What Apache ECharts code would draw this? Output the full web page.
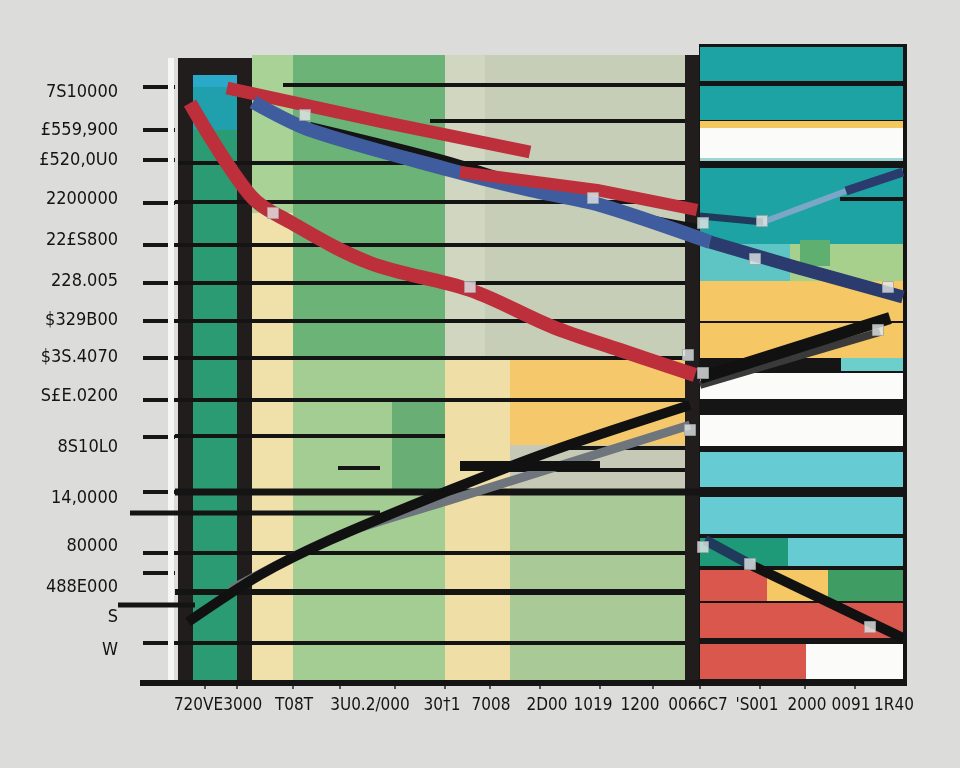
<!DOCTYPE html>
<html><head><meta charset="utf-8">
<script src="https://cdn.jsdelivr.net/npm/echarts@6/dist/echarts.min.js"></script>
<style>html,body{margin:0;padding:0;background:#dcdcda;}#chart{width:960px;height:768px;}</style>
</head><body><div id="chart"></div>
<script>
// ---------------- data ----------------
const yLabelValues = [59.1, 55.3, 52.3, 48.4, 44.3, 40.2, 36.3, 32.6, 28.7, 23.6, 18.5, 13.7, 9.6, 6.6, 3.3];
const yLabelTexts  = ["7S10000", "£559,900", "£520,0U0", "2200000", "22£S800", "228.005", "$329B00", "$3S.4070", "S£E.0200", "8S10L0", "14,0000", "80000", "488E000", "S", "W"];
const yTickValues  = [59.6, 55.3, 52.3, 48.0, 43.8, 40.0, 36.2, 32.5, 28.3, 24.6, 19.1, 13.0, 11.0, 7.8, 4.0];

const xLabelValues = [4.3, 11.9, 19.5, 26.7, 31.6, 37.2, 41.8, 46.5, 52.3, 58.2, 63.2, 67.6, 71.9];
const xLabelTexts  = ["720VE3000", "T08T", "3U0.2/000", "30†1", "7008", "2D00", "1019", "1200", "0066C7", "'S001", "2000", "0091", "1R40"];
const xTickValues  = [3.0, 6.2, 11.8, 16.5, 22.0, 27.0, 31.5, 36.5, 42.5, 47.8, 52.5, 58.5, 63.0, 68.0];

// column bands and panel rows: [left, right, bottom, top]
const bands = [
  [-0.7, -0.1, 0, 62.5],
  [0.3, 7.7, 60.8, 62.5], [0.3, 1.8, 0, 62.5], [1.8, 6.2, 55.3, 60.8], [1.8, 6.2, 59.6, 60.8],
  [1.8, 6.2, 0, 55.3], [6.2, 7.7, 0, 62.5], [7.7, 11.8, 47.0, 62.8], [7.7, 11.8, 0, 47.0],
  [11.8, 27.0, 32.3, 62.8], [11.8, 27.0, 0, 32.3], [21.7, 27.0, 19.3, 28.3], [27.0, 51.0, 32.3, 62.8],
  [27.0, 31.0, 32.3, 62.8], [27.0, 33.5, 0, 32.3], [33.5, 51.0, 23.8, 32.3], [33.5, 51.0, 19.0, 23.8],
  [33.5, 51.0, 0, 19.0], [51.0, 52.4, 0, 62.8]
];
const panelRows = [
  [52.4, 73.2, 0, 63.9], [52.5, 72.8, 60.2, 63.6], [52.5, 72.8, 56.3, 59.7], [52.5, 72.8, 55.5, 56.2],
  [52.5, 72.8, 52.5, 55.5], [52.5, 72.8, 52.2, 52.5], [52.5, 72.8, 43.9, 51.5], [52.5, 61.5, 40.2, 43.9],
  [61.5, 72.8, 40.2, 43.9], [62.5, 65.5, 41.7, 44.3], [52.5, 72.8, 36.2, 40.2], [52.5, 72.8, 32.5, 36.0],
  [66.6, 72.8, 31.2, 32.5], [52.5, 72.8, 28.4, 31.0], [52.5, 72.8, 23.7, 26.8], [52.5, 72.8, 19.6, 23.1],
  [52.5, 72.8, 14.9, 18.6], [52.5, 61.3, 11.7, 14.5], [61.3, 72.8, 11.7, 14.5], [52.5, 59.2, 8.2, 11.3],
  [59.2, 65.3, 8.2, 11.3], [65.3, 72.8, 8.2, 11.3], [52.5, 72.8, 4.5, 8.0], [52.5, 63.1, 0.4, 3.9],
  [63.1, 72.8, 0.4, 3.9]
];
// horizontal rules: [from, to, level]
const rules = [
  [10.8, 51.0, 59.8], [25.5, 51.0, 56.2], [0.3, 51.0, 52.0], [0, 51.0, 48.1], [0, 51.0, 43.8],
  [0, 51.0, 40.0], [0, 51.0, 36.2], [0, 51.0, 32.5], [0, 51.0, 28.3], [0, 27.0, 24.7],
  [38.5, 51.0, 23.5], [33.5, 51.0, 21.3], [16.3, 20.5, 21.5], [0, 52.5, 19.1], [-4.5, 20.5, 17.0],
  [0, 51.0, 13.0], [0, 51.0, 9.1], [-5.7, 2.0, 7.8], [0, 51.0, 4.0], [-3.5, 73.2, 0], [66.5, 72.8, 48.4]
];

// trend lines
const redSteep   = [[1.5, 58.0], [7.5, 48.8], [11.5, 46.1], [19.5, 42.0], [29.5, 39.3], [37.8, 35.6], [44.5, 33.3], [52.0, 30.8]];
const redTop     = [[5.2, 59.5], [20.8, 56.1], [35.5, 53.1]];
const redMid     = [[28.5, 51.1], [42.2, 49.3], [52.2, 47.3]];
const blueMain   = [[7.8, 58.1], [13.5, 55.3], [27.5, 51.3], [35.5, 49.3], [42.5, 47.8], [53.5, 44.1]];
const blueRight  = [[53.5, 44.1], [62.0, 41.6], [72.8, 38.6]];
const blackShade = [[13.5, 55.8], [27.5, 52.3], [42.5, 47.6], [52.2, 45.6]];
const paleBlue   = [[58.8, 46.1], [67.1, 49.2]];
const navyTop    = [[52.5, 46.7], [58.8, 46.1]];
const navyEnd    = [[67.1, 49.2], [72.8, 51.1]];
const blackRise  = [[1.3, 6.1], [8.5, 10.8], [15.5, 14.3], [27.5, 19.3], [38.5, 23.5], [51.5, 27.8]];
const greyRise   = [[5.5, 9.3], [16.5, 14.8], [27.5, 18.3], [51.5, 25.8]];
const blackFlat  = [[28.5, 21.7], [42.5, 21.7]];
const panelRise  = [[52.5, 30.5], [71.5, 36.5]];
const panelShade = [[52.5, 29.8], [70.5, 35.1]];
const navyLow    = [[53.0, 14.3], [57.8, 11.7]];
const blackFall  = [[57.8, 11.7], [72.8, 4.5]];

const markerX = [13.0, 9.8, 29.5, 41.8, 51.3, 51.5, 52.8, 58.7, 58.0, 71.3, 70.3, 52.8, 52.8, 57.5, 69.5];
const markerY = [56.8, 47.0, 39.6, 48.5, 32.8, 25.3, 46.0, 46.2, 42.4, 39.6, 35.3, 31.0, 13.6, 11.9, 5.6];

// ---------------- styles ----------------
const bandColors = ['#f6f6f4', '#211d1d', '#211d1d', '#1fa0ac', '#2aa9c8', '#2a9b73', '#211d1d', '#a9d296', '#efe1a9',
  '#6cb378', '#a3cd92', '#68ae75', '#c7ceb8', '#d0d6c0', '#efdfa6', '#f5c96b', '#c5c9b5', '#a9ca96', '#211d1d'];
const rowColors = ['#151515', '#1ea3a5', '#1ea3a5', '#f5c85e', '#fbfbf9', '#9fd5d0', '#1ea3a5', '#5ec4c4',
  '#a8d08d', '#5fb070', '#f5c865', '#f5c865', '#6ccfcc', '#fbfbf9', '#fbfbf9', '#67cbd3', '#67cbd3',
  '#1e9a78', '#67cbd3', '#d9574c', '#f5c865', '#3f9c62', '#d9574c', '#d9574c', '#fbfbf9'];
const ruleWidths = [4, 4, 4, 4, 4, 4, 4, 4, 4, 4, 4, 4, 4, 7, 5, 4, 6, 5, 4, 6, 4];

function rectRender(colors) {
  return function (params, api) {
    const p0 = api.coord([api.value(0), api.value(3)]);
    const p1 = api.coord([api.value(1), api.value(2)]);
    return { type: 'rect', shape: { x: p0[0], y: p0[1], width: p1[0] - p0[0], height: p1[1] - p0[1] },
      style: { fill: colors[params.dataIndex] } };
  };
}
function ruleRender(params, api) {
  const a = api.coord([api.value(0), api.value(2)]);
  const b = api.coord([api.value(1), api.value(2)]);
  return { type: 'line', shape: { x1: a[0], y1: a[1], x2: b[0], y2: b[1] },
    style: { stroke: '#141414', lineWidth: ruleWidths[params.dataIndex] } };
}
function line(data, color, width, z, smooth) {
  return { type: 'line', data: data, z: z, symbol: 'none', silent: true, animation: false, smooth: smooth || false,
    lineStyle: { color: color, width: width, cap: 'butt', join: 'round' } };
}

const font = '"DejaVu Sans Condensed", "Liberation Sans Narrow", sans-serif';
const chart = echarts.init(document.getElementById('chart'), null, { renderer: 'canvas' });
chart.setOption({
  backgroundColor: '#dcdcda',
  animation: false,
  grid: { left: 175, right: 50, top: 43, bottom: 85 },
  xAxis: {
    type: 'value', min: 0, max: 73.5,
    splitLine: { show: false },
    axisLine: { show: false },
    axisTick: { show: true, customValues: xTickValues, length: 6, lineStyle: { color: '#555', width: 2 } },
    axisLabel: { customValues: xLabelValues, margin: 14, color: '#141414', fontSize: 17, fontFamily: font,
      formatter: v => xLabelTexts[xLabelValues.findIndex(t => Math.abs(t - v) < 1e-6)] || '' }
  },
  yAxis: {
    type: 'value', min: 0, max: 64,
    splitLine: { show: false },
    axisLine: { show: false },
    axisTick: { show: true, customValues: yTickValues, length: 32, lineStyle: { color: '#161616', width: 4 } },
    axisLabel: { customValues: yLabelValues, margin: 57, color: '#141414', fontSize: 18, fontFamily: font,
      formatter: v => yLabelTexts[yLabelValues.findIndex(t => Math.abs(t - v) < 1e-6)] || '' }
  },
  series: [
    { type: 'custom', z: 1, data: panelRows, renderItem: rectRender(rowColors), silent: true },
    { type: 'custom', z: 2, data: bands, renderItem: rectRender(bandColors), silent: true },
    { type: 'custom', z: 3, data: rules, renderItem: ruleRender, silent: true },
    line(blackShade, '#141414', 6, 4, 0.3),
    line(greyRise, '#6f757c', 9, 4, 0.3),
    line(panelShade, '#3a3a3a', 8, 4),
    line(redSteep, '#bd2f3a', 14, 5, 0.35),
    line(redTop, '#bd2f3a', 13, 5),
    line(blueMain, '#3f5c9e', 14, 5, 0.3),
    line(blueRight, '#2b3b6e', 13, 5),
    line(redMid, '#bd2f3a', 12, 6),
    line(paleBlue, '#7aa6c8', 6, 5),
    line(navyTop, '#1f3a5a', 7, 5),
    line(navyEnd, '#2b3b6e', 9, 5),
    line(blackRise, '#111111', 10, 6, 0.3),
    line(blackFlat, '#111111', 10, 6),
    line(panelRise, '#111111', 12, 6),
    line(navyLow, '#1f3a5a', 10, 6),
    line(blackFall, '#111111', 10, 6),
    { type: 'scatter', z: 8, silent: true, symbol: 'rect', symbolSize: 11,
      data: markerX.map((x, i) => [x, markerY[i]]),
      itemStyle: { color: '#e4e7e7', borderColor: '#9aa3a6', borderWidth: 1 } }
  ]
});
</script></body></html>
